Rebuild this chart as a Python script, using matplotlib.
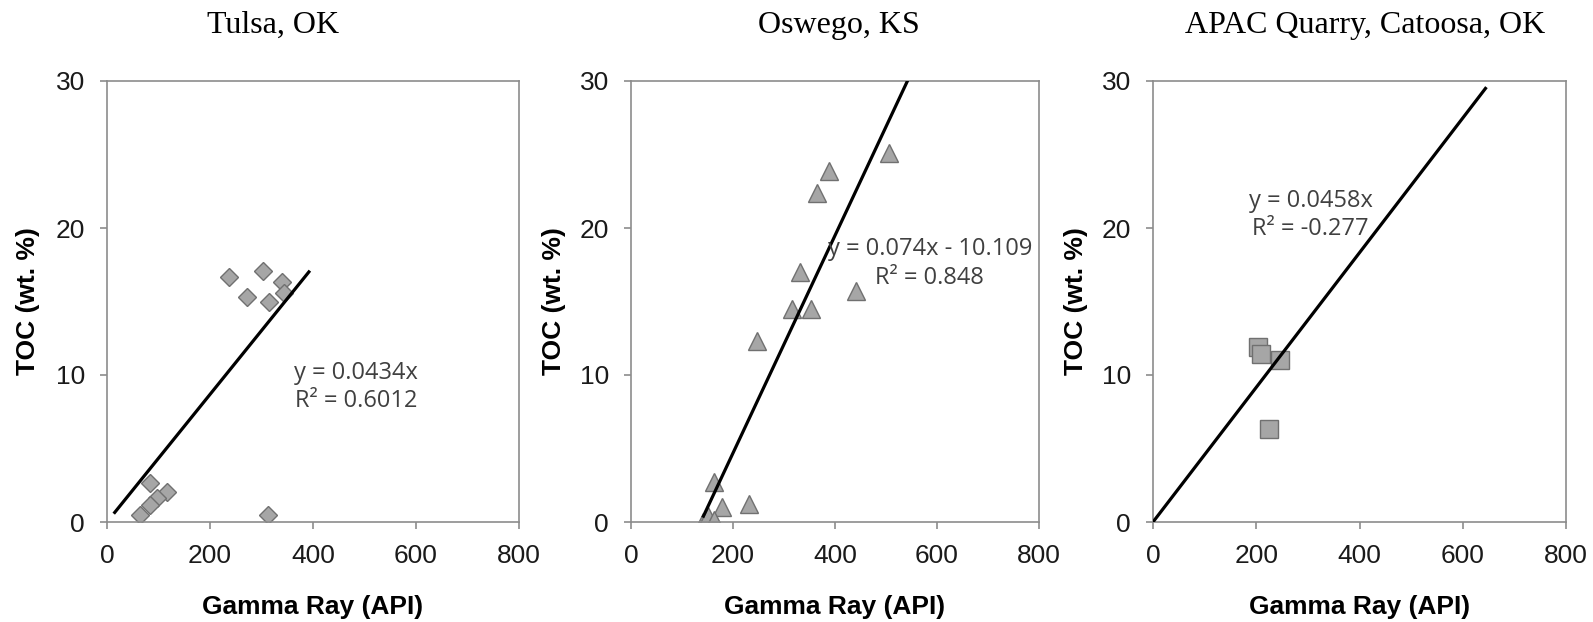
import matplotlib.pyplot as plt
import numpy as np

# gamma ray (API) vs TOC (wt. %) for three outcrop/core locations
sites = ["Tulsa, OK", "Oswego, KS", "APAC Quarry, Catoosa, OK"]

tulsa_gr = [237, 303, 339, 343, 315, 271, 83, 116, 98, 83, 65, 313]
tulsa_toc = [16.7, 17.1, 16.35, 15.6, 15.0, 15.3, 2.65, 2.05, 1.6, 1.15, 0.5, 0.5]

oswego_gr = [505, 389, 364, 331, 441, 316, 353, 248, 162, 179, 231, 142, 150, 162]
oswego_toc = [25.1, 23.9, 22.4, 17.0, 15.7, 14.5, 14.5, 12.3, 2.75, 1.05, 1.2, 0.0, 0.4, 0.15]

apac_gr = [203, 209, 246, 224]
apac_toc = [11.9, 11.45, 11.05, 6.35]

# linear fits: slope, intercept, x extent of the drawn line
fit_slope = [0.0434, 0.074, 0.0458]
fit_intercept = [0.0, -10.109, 0.0]
fit_xrange = [(15, 392), (142, 560), (0, 644)]
fit_labels = ["y = 0.0434x\nR² = 0.6012",
              "y = 0.074x - 10.109\nR² = 0.848",
              "y = 0.0458x\nR² = -0.277"]
label_pos = [(484, 9.2), (586, 17.6), (305, 20.9)]

x_ticks = [0, 200, 400, 600, 800]
y_ticks = [0, 10, 20, 30]

series = [(tulsa_gr, tulsa_toc, "D", 9.5),
          (oswego_gr, oswego_toc, "^", 13.5),
          (apac_gr, apac_toc, "s", 13.0)]

W, H = 1593, 622
fig = plt.figure(figsize=(W / 100, H / 100), dpi=100)

# axes boxes in pixels: left, right
boxes = [(107, 519), (631, 1039), (1153, 1566)]
top, bottom = 81, 522
title_x = [273, 839, 1365]

spine_col = "#8c8c8c"

for i, (gr, toc, mk, ms) in enumerate(series):
    l, r = boxes[i]
    ax = fig.add_axes([l / W, (H - bottom) / H, (r - l) / W, (bottom - top) / H])
    ax.plot(gr, toc, linestyle="none", marker=mk, markersize=ms,
            markerfacecolor="#a6a6a6", markeredgecolor="#707070",
            markeredgewidth=1.0, zorder=2)

    xs = np.array(fit_xrange[i], dtype=float)
    ax.plot(xs, fit_slope[i] * xs + fit_intercept[i], color="black",
            linewidth=2.3, zorder=3)

    tx, ty = label_pos[i]
    ax.text(tx, ty, fit_labels[i], ha="center", va="center",
            family="Open Sans", fontsize=17, color="#404040",
            linespacing=1.25, zorder=4)

    ax.set_xlim(0, 800)
    ax.set_ylim(0, 30)
    ax.set_xticks(x_ticks)
    ax.set_yticks(y_ticks)
    for s in ax.spines.values():
        s.set_color(spine_col)
        s.set_linewidth(1.2)
    ax.tick_params(direction="out", length=5, width=1.2, color=spine_col,
                   labelsize=19, pad=11, labelcolor="#1a1a1a")
    for lab in ax.get_xticklabels() + ax.get_yticklabels():
        lab.set_family("Liberation Sans")

    ax.set_xlabel("Gamma Ray (API)", family="Liberation Sans",
                  fontweight="bold", fontsize=19)
    ax.set_ylabel("TOC (wt. %)", family="Liberation Sans",
                  fontweight="bold", fontsize=19, va="center")
    ax.xaxis.set_label_coords(0.5, -(607 - bottom) / (bottom - top))
    ax.xaxis.label.set_va("center")
    ax.yaxis.set_label_coords(-(l - 28) / (r - l) if i == 0 else -77 / (r - l), 0.5)

    fig.text(title_x[i] / W, 1 - 25 / H, sites[i], ha="center", va="center",
             family="Liberation Serif", fontsize=23)

fig.savefig("out.png", dpi=100)
